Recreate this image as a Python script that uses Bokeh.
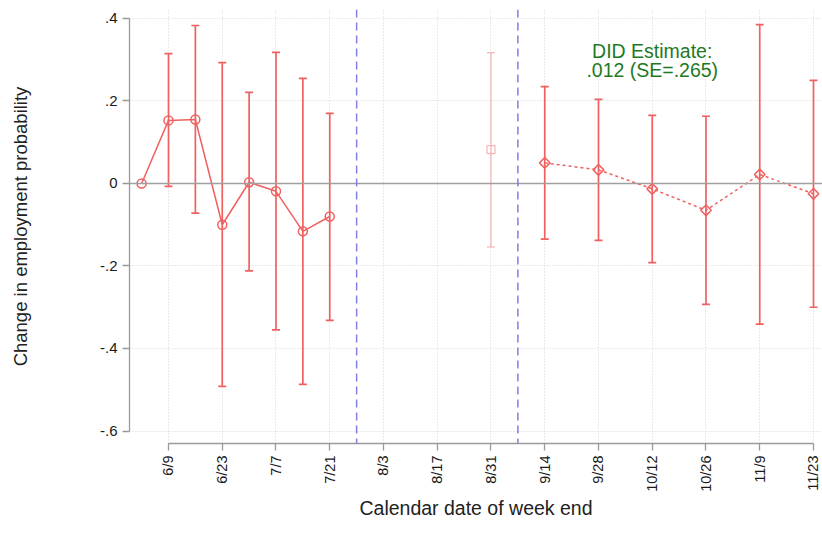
import numpy as np
from bokeh.plotting import figure
from bokeh.models import Range1d, Span, FixedTicker
from bokeh.core.properties import value
from bokeh.embed import file_html
from bokeh.resources import INLINE

# week index: 0 = week ending 6/2
tick_weeks = [1, 3, 5, 7, 9, 11, 13, 15, 17, 19, 21, 23, 25]
tick_labels = ["6/9", "6/23", "7/7", "7/21", "8/3", "8/17", "8/31",
               "9/14", "9/28", "10/12", "10/26", "11/9", "11/23"]
y_ticks = [-0.6, -0.4, -0.2, 0.0, 0.2, 0.4]
y_tick_labels = ["-.6", "-.4", "-.2", "0", ".2", ".4"]

pre_weeks = [0, 1, 2, 3, 4, 5, 6, 7]
pre_est = [0.0, 0.153, 0.155, -0.100, 0.003, -0.019, -0.116, -0.080]
pre_ci_weeks = [1, 2, 3, 4, 5, 6, 7]
pre_lo = [-0.007, -0.072, -0.492, -0.212, -0.355, -0.487, -0.332]
pre_hi = [0.315, 0.383, 0.293, 0.221, 0.318, 0.255, 0.170]

gap_weeks = [13]
gap_est = [0.082]
gap_lo = [-0.154]
gap_hi = [0.317]

post_weeks = [15, 17, 19, 21, 23, 25]
post_est = [0.050, 0.033, -0.013, -0.065, 0.022, -0.025]
post_lo = [-0.135, -0.138, -0.192, -0.293, -0.341, -0.300]
post_hi = [0.235, 0.204, 0.165, 0.163, 0.385, 0.250]

event_weeks = [8, 14]
did_text = "DID Estimate:\n.012 (SE=.265)"
did_pos = (19, 0.298)

RED = "#f06060"
FAINT = "#f4a6a6"
FONT = "Liberation Sans"

p = figure(width=822, height=535, output_backend="svg", toolbar_location=None,
           x_range=Range1d(-0.451, 25.335), y_range=Range1d(-0.6303, 0.4218),
           min_border_left=129, min_border_right=0, min_border_top=9,
           min_border_bottom=92)
p.outline_line_color = None
p.background_fill_color = "white"
p.border_fill_color = "white"

# grids
for g in (p.xgrid, p.ygrid):
    g.grid_line_color = "#d4d4d4"
    g.grid_line_dash = "1 2"
    g.grid_line_width = 1

# axes
p.xaxis.ticker = FixedTicker(ticks=tick_weeks)
p.xaxis.major_label_overrides = {w: l for w, l in zip(tick_weeks, tick_labels)}
p.xaxis.major_label_orientation = np.pi / 2
p.xaxis.bounds = (tick_weeks[0], tick_weeks[-1])
p.yaxis.ticker = FixedTicker(ticks=y_ticks)
p.yaxis.major_label_overrides = {v: l for v, l in zip(y_ticks, y_tick_labels)}
p.yaxis.bounds = (y_ticks[0], y_ticks[-1])
p.xaxis.axis_label = "Calendar date of week end"
p.yaxis.axis_label = "Change in employment probability"
for ax in (p.xaxis, p.yaxis):
    ax.axis_line_color = "#9a9a9a"
    ax.major_tick_line_color = "#9a9a9a"
    ax.axis_line_width = 1.3
    ax.major_tick_line_width = 1.3
    ax.major_tick_out = 7
    ax.major_tick_in = 0
    ax.minor_tick_line_color = None
    ax.major_label_text_font = FONT
    ax.axis_label_text_font = FONT
    ax.major_label_text_color = "#1a1a1a"
    ax.axis_label_text_color = "#222222"
    ax.axis_label_text_font_style = "normal"
    ax.major_label_standoff = 5
p.xaxis.major_label_text_font_size = "14.5px"
p.yaxis.major_label_text_font_size = "15px"
p.xaxis.axis_label_text_font_size = "19.5px"
p.yaxis.axis_label_text_font_size = "18.5px"
p.xaxis.axis_label_standoff = 2
p.yaxis.axis_label_standoff = 66

# reference lines
p.add_layout(Span(location=0, dimension="width", line_color="#a0a0a0", line_width=1.3))
for w in event_weeks:
    p.add_layout(Span(location=w, dimension="height", line_color="#7f7fe6",
                      line_width=1.5, line_dash="8 5"))

# pre period
p.segment(pre_ci_weeks, pre_lo, pre_ci_weeks, pre_hi, line_color=RED, line_width=1.7)
p.scatter(pre_ci_weeks, pre_lo, marker="dash", size=8, line_color=RED, line_width=1.7)
p.scatter(pre_ci_weeks, pre_hi, marker="dash", size=8, line_color=RED, line_width=1.7)
p.line(pre_weeks, pre_est, line_color=RED, line_width=1.5)
p.scatter(pre_weeks, pre_est, marker="circle", size=9, fill_color=None,
          line_color=RED, line_width=1.5)

# gap week (faint)
p.segment(gap_weeks, gap_lo, gap_weeks, gap_hi, line_color=FAINT, line_width=1)
p.scatter(gap_weeks, gap_lo, marker="dash", size=8, line_color=FAINT, line_width=1)
p.scatter(gap_weeks, gap_hi, marker="dash", size=8, line_color=FAINT, line_width=1)
p.scatter(gap_weeks, gap_est, marker="square", size=8, fill_color=None,
          line_color=FAINT, line_width=1)

# post period
p.segment(post_weeks, post_lo, post_weeks, post_hi, line_color=RED, line_width=1.7)
p.scatter(post_weeks, post_lo, marker="dash", size=8, line_color=RED, line_width=1.7)
p.scatter(post_weeks, post_hi, marker="dash", size=8, line_color=RED, line_width=1.7)
p.line(post_weeks, post_est, line_color=RED, line_width=1.5, line_dash="3 3")
p.scatter(post_weeks, post_est, marker="square", angle=np.pi / 4, size=7.5,
          fill_color=None, line_color=RED, line_width=1.5)

# annotation
p.text(x=[did_pos[0]], y=[did_pos[1]], text=[did_text], text_align="center",
       text_baseline="middle", text_font=value(FONT), text_font_size="19.5px",
       text_color="#1f7a1f", text_line_height=0.88)

open("out.html", "w").write(file_html(p, INLINE))
